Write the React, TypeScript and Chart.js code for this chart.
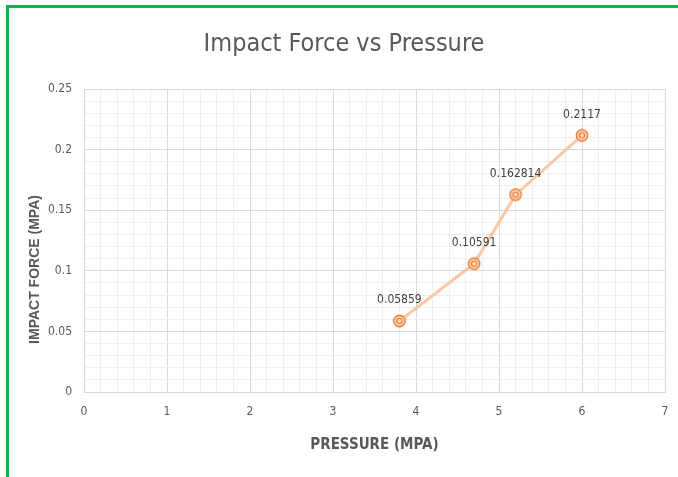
import React, { useEffect, useRef } from "react";
import { Chart, registerables } from "chart.js";

Chart.register(...registerables);

const chartTitle = "Impact Force vs Pressure";
const xAxisTitle = "PRESSURE (MPA)";
const yAxisTitle = "IMPACT FORCE (MPA)";
const pressure = [3.8, 4.7, 5.2, 6.0];
const impactForce = [0.05859, 0.10591, 0.162814, 0.2117];
const pointLabels = ["0.05859", "0.10591", "0.162814", "0.2117"];

const NARROW = "'Liberation Sans Narrow', 'DejaVu Sans Condensed', 'Open Sans', sans-serif";
const TEXT = "#595959";

function makeMarker(): HTMLCanvasElement {
  const c = document.createElement("canvas");
  c.width = 16;
  c.height = 16;
  const ctx = c.getContext("2d")!;
  ctx.fillStyle = "#fbe5d6";
  ctx.beginPath();
  ctx.arc(8, 8, 6, 0, Math.PI * 2);
  ctx.fill();
  ctx.strokeStyle = "#ed7d31";
  ctx.lineWidth = 1.6;
  ctx.beginPath();
  ctx.arc(8, 8, 5.6, 0, Math.PI * 2);
  ctx.stroke();
  ctx.lineWidth = 1.4;
  ctx.beginPath();
  ctx.arc(8, 8, 2.6, 0, Math.PI * 2);
  ctx.stroke();
  return c;
}

const labelPlugin = {
  id: "pointLabels",
  afterDatasetsDraw(chart: any) {
    const ctx = chart.ctx;
    const meta = chart.getDatasetMeta(0);
    ctx.save();
    ctx.font = `12px ${NARROW}`;
    ctx.fillStyle = "#404040";
    ctx.textAlign = "center";
    ctx.textBaseline = "middle";
    meta.data.forEach((pt: any, i: number) => {
      ctx.fillText(pointLabels[i], pt.x, pt.y - 21);
    });
    ctx.restore();
  },
};

const titlesPlugin = {
  id: "titles",
  afterDraw(chart: any) {
    const ctx = chart.ctx;
    const area = chart.chartArea;
    ctx.save();
    ctx.textAlign = "center";
    ctx.textBaseline = "middle";
    ctx.fillStyle = TEXT;
    ctx.font = `25px ${NARROW}`;
    ctx.fillText(chartTitle, 344, 44);
    ctx.font = `bold 15px ${NARROW}`;
    ctx.fillText(xAxisTitle, (area.left + area.right) / 2, area.bottom + 53);
    ctx.translate(35, (area.top + area.bottom) / 2 + 29);
    ctx.rotate(-Math.PI / 2);
    ctx.font = `bold 14px 'Liberation Sans', Arial, sans-serif`;
    ctx.fillText(yAxisTitle, 0, 0);
    ctx.restore();
  },
};

export default function App() {
  const ref = useRef<HTMLCanvasElement>(null);

  useEffect(() => {
    const marker = makeMarker();
    const chart = new Chart(ref.current!, {
      type: "scatter",
      data: {
        datasets: [
          {
            data: pressure.map((x, i) => ({ x, y: impactForce[i] })),
            showLine: true,
            borderColor: "rgba(246,190,150,0.85)",
            borderWidth: 3,
            pointStyle: marker as any,
            pointRadius: 7,
            backgroundColor: "#ed7d31",
          },
        ],
      },
      plugins: [labelPlugin, titlesPlugin],
      options: {
        animation: false,
        responsive: false,
        layout: { padding: { left: 0, right: 13, top: 89, bottom: 0 } },
        plugins: {
          legend: { display: false },
          tooltip: { enabled: false },
          title: { display: false },
        },
        scales: {
          x: {
            type: "linear",
            min: 0,
            max: 7,
            ticks: {
              stepSize: 0.2,
              autoSkip: false,
              maxRotation: 0,
              padding: 13,
              color: TEXT,
              font: { family: NARROW, size: 12 },
              callback: (v: any) => {
                const r = Math.round(v * 5);
                return r % 5 === 0 ? String(r / 5) : "";
              },
            },
            grid: {
              drawTicks: false,
              color: (c: any) => {
                const r = Math.round(c.tick.value * 5);
                return r % 5 === 0 ? "#d9d9d9" : "#efefef";
              },
            },
            border: { color: "#d9d9d9" },
            afterFit: (s: any) => {
              s.height = 85;
              s.paddingLeft = 0;
              s.paddingRight = 0;
            },
          },
          y: {
            type: "linear",
            min: 0,
            max: 0.25,
            ticks: {
              stepSize: 0.01,
              autoSkip: false,
              padding: 12,
              color: TEXT,
              font: { family: NARROW, size: 12 },
              callback: (v: any) => {
                const r = Math.round(v * 100);
                return r % 5 === 0 ? String(r / 100) : "";
              },
            },
            grid: {
              drawTicks: false,
              color: (c: any) => {
                const r = Math.round(c.tick.value * 100);
                return r % 5 === 0 ? "#d9d9d9" : "#efefef";
              },
            },
            border: { color: "#d9d9d9" },
            afterFit: (s: any) => {
              s.width = 84;
            },
          },
        },
      },
    });
    return () => chart.destroy();
  }, []);

  return (
    <div style={{ position: "fixed", left: 0, top: 0, width: 678, height: 477, background: "#fff", overflow: "hidden" }}>
      <canvas ref={ref} width={678} height={477} style={{ position: "absolute", left: 0, top: 0 }} />
      <div style={{ position: "absolute", left: 6, top: 5, width: 3, height: 472, background: "#12b34a" }} />
      <div style={{ position: "absolute", left: 6, top: 5, width: 672, height: 3, background: "#12b34a" }} />
    </div>
  );
}
